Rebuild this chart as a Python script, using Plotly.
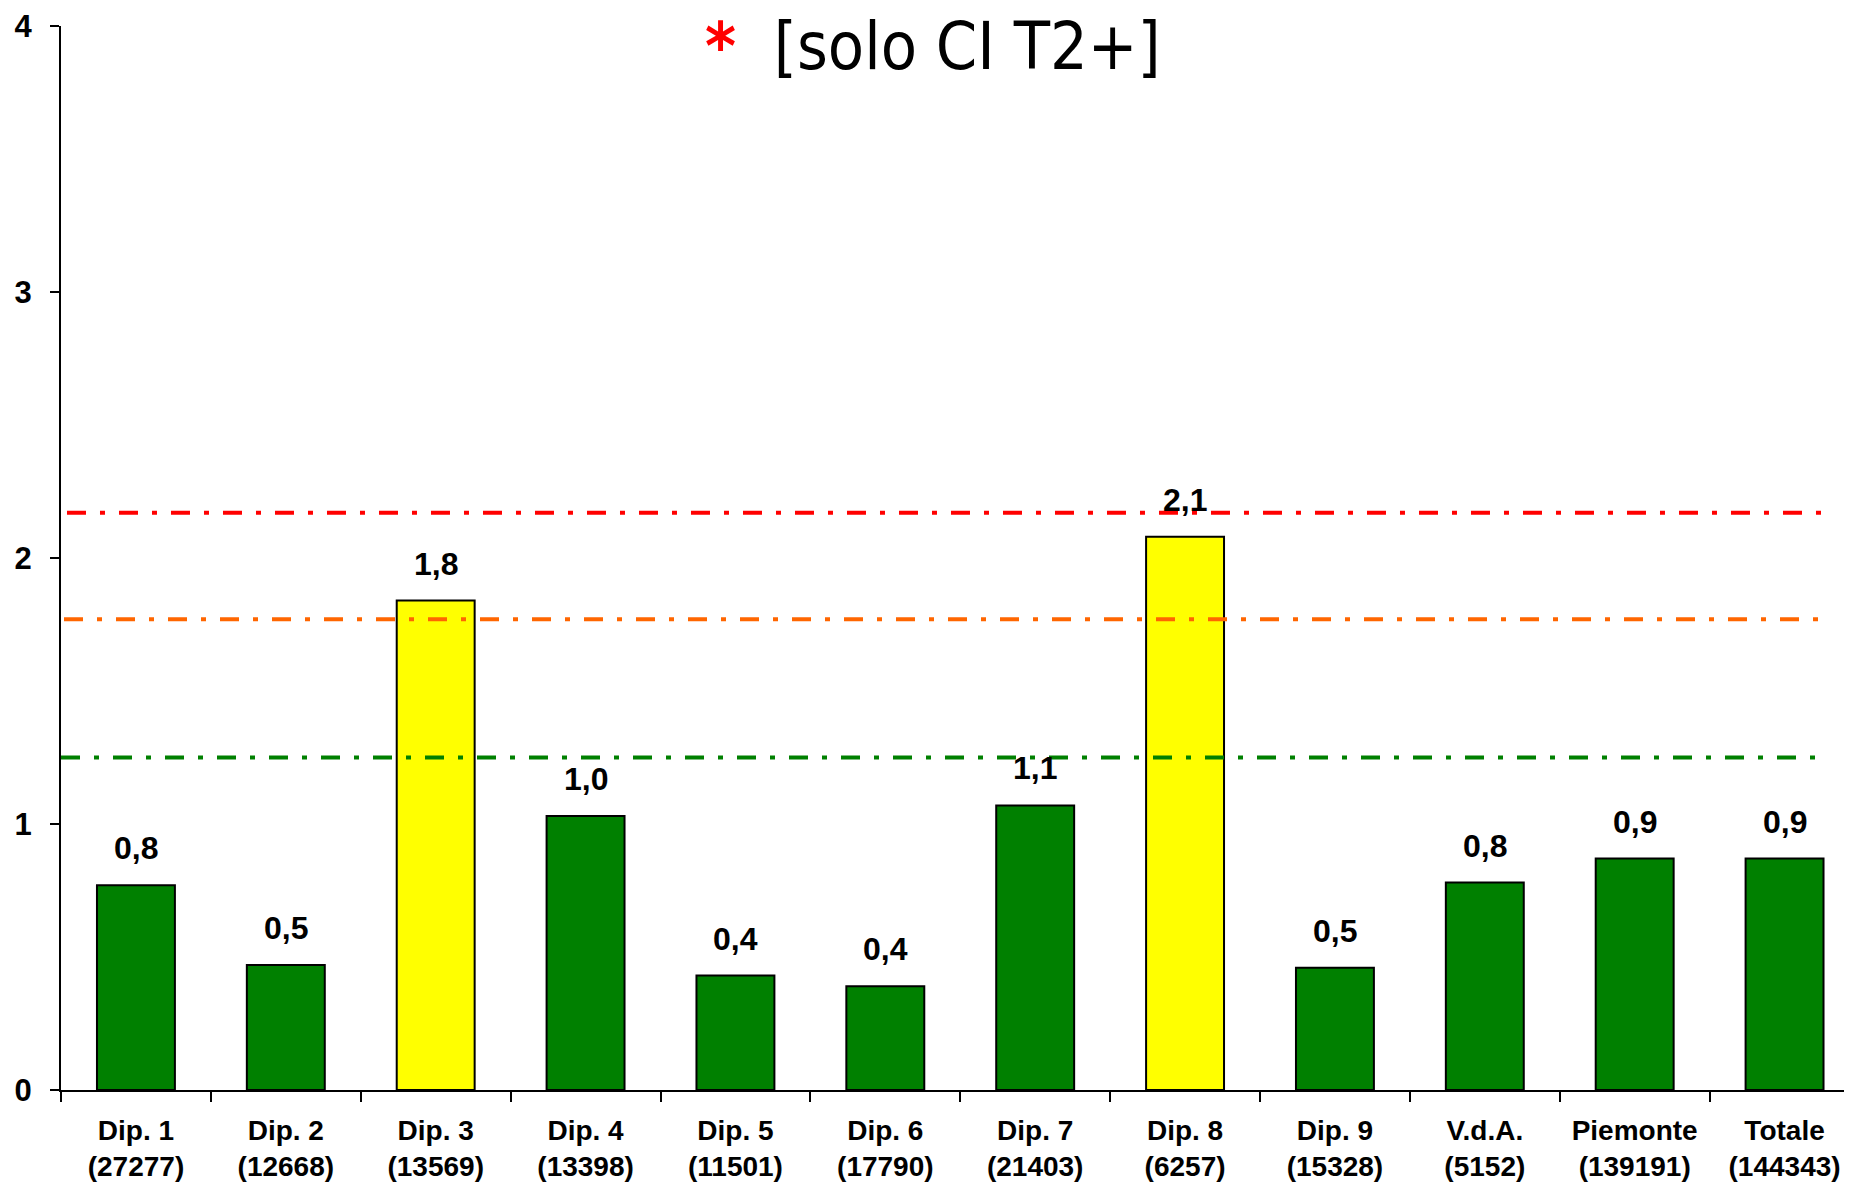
"""Bar chart: rate per department with reference thresholds (solo CI T2+)."""

import plotly.graph_objects as go

# Data
categories = ["Dip. 1", "Dip. 2", "Dip. 3", "Dip. 4", "Dip. 5", "Dip. 6",
              "Dip. 7", "Dip. 8", "Dip. 9", "V.d.A.", "Piemonte", "Totale"]
populations = ["27277", "12668", "13569", "13398", "11501", "17790",
               "21403", "6257", "15328", "5152", "139191", "144343"]
values = [0.77, 0.47, 1.84, 1.03, 0.43, 0.39, 1.07, 2.08, 0.46, 0.78, 0.87, 0.87]
value_labels = ["0,8", "0,5", "1,8", "1,0", "0,4", "0,4",
                "1,1", "2,1", "0,5", "0,8", "0,9", "0,9"]
highlighted = ["Dip. 3", "Dip. 8"]

threshold_values = [2.17, 1.77, 1.25]
threshold_colors = ["#FF0000", "#FF6600", "#008000"]

y_ticks = [0, 1, 2, 3, 4]

FONT = "Arial, Liberation Sans, sans-serif"

tick_text = [f"{c}<br>({p})" for c, p in zip(categories, populations)]
bar_colors = ["#FFFF00" if c in highlighted else "#008000" for c in categories]

fig = go.Figure()

fig.add_trace(
    go.Bar(
        x=categories,
        y=values,
        width=0.52,
        marker=dict(color=bar_colors, line=dict(color="black", width=2)),
        showlegend=False,
        hoverinfo="skip",
    )
)

# Value labels above bars
for cat, val, lab in zip(categories, values, value_labels):
    fig.add_annotation(
        x=cat, y=val, text=f"<b>{lab}</b>", showarrow=False,
        yanchor="bottom", yshift=17,
        font=dict(family=FONT, size=32, color="black"),
    )

# Threshold lines (dash-dot)
line_spans = [(-0.46, 11.31), (-0.48, 11.29), (-0.5, 11.27)]
for val, color, (x0, x1) in zip(threshold_values, threshold_colors, line_spans):
    fig.add_shape(
        type="line", xref="x", yref="y",
        x0=x0, x1=x1, y0=val, y1=val,
        line=dict(color=color, width=4, dash="19px,14px,5px,14px"),
        layer="above",
    )

# Title fragment
fig.add_annotation(
    xref="paper", yref="paper", x=0.487, y=0.981,
    xanchor="center", yanchor="middle", showarrow=False,
    text="<span style='color:#FF0000'><b>*</b></span>&nbsp; [solo CI T2+]",
    font=dict(family="DejaVu Sans Condensed", size=66, color="black"),
)

# page body adds an 8px offset, so the figure is sized to fit the window
fig.update_layout(
    width=1844,
    height=1175,
    plot_bgcolor="white",
    paper_bgcolor="white",
    margin=dict(l=53, r=0, t=18, b=93),
    bargap=0.48,
)

fig.update_xaxes(
    categoryorder="array",
    categoryarray=categories,
    tickvals=categories,
    ticktext=tick_text,
    tickson="boundaries",
    range=[-0.5, 11.45],
    automargin=False,
    showline=True, linecolor="black", linewidth=2,
    ticks="outside", ticklen=10, tickwidth=2, tickcolor="black",
    ticklabelstandoff=14,
    tickfont=dict(family=FONT, size=28, color="black", weight="bold"),
    showgrid=False, zeroline=False,
)

fig.update_yaxes(
    range=[0, 4],
    tickvals=y_ticks,
    automargin=False,
    showline=True, linecolor="black", linewidth=2,
    ticks="outside", ticklen=9, tickwidth=2, tickcolor="black",
    ticklabelstandoff=12,
    tickfont=dict(family=FONT, size=31, color="black", weight="bold"),
    showgrid=False, zeroline=False,
)

fig.write_html("out.html")
